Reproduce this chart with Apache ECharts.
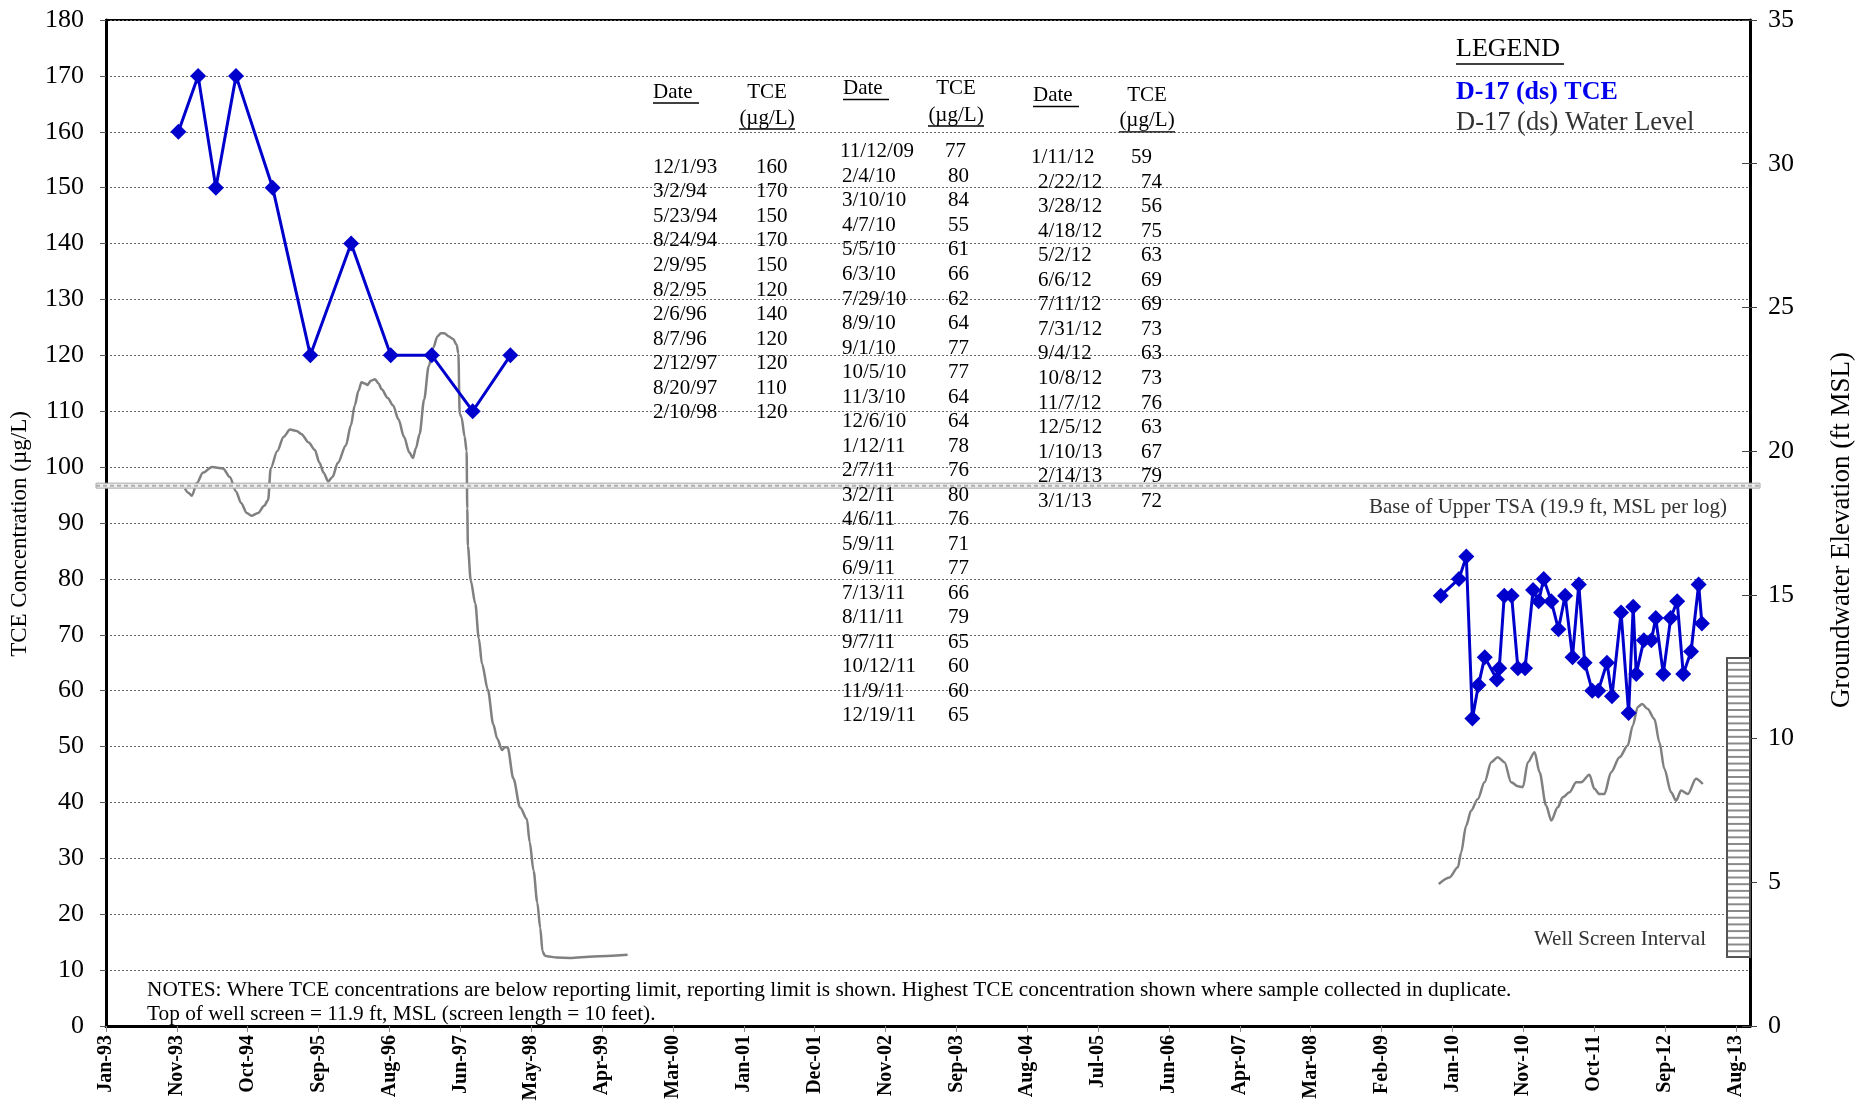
<!DOCTYPE html>
<html><head><meta charset="utf-8">
<script src="https://cdn.jsdelivr.net/npm/echarts@6/dist/echarts.min.js"></script>
<style>html,body{margin:0;padding:0;background:#fff}#c{width:1875px;height:1107px}</style>
</head><body><div id="c"></div>
<script>
// ---- DATA ----
const table1Dates = ['12/1/93','3/2/94','5/23/94','8/24/94','2/9/95','8/2/95','2/6/96','8/7/96','2/12/97','8/20/97','2/10/98'];
const table1Values = [160,170,150,170,150,120,140,120,120,110,120];
const table2Dates = ['11/12/09','2/4/10','3/10/10','4/7/10','5/5/10','6/3/10','7/29/10','8/9/10','9/1/10','10/5/10','11/3/10','12/6/10','1/12/11','2/7/11','3/2/11','4/6/11','5/9/11','6/9/11','7/13/11','8/11/11','9/7/11','10/12/11','11/9/11','12/19/11'];
const table2Values = [77,80,84,55,61,66,62,64,77,77,64,64,78,76,80,76,71,77,66,79,65,60,60,65];
const table3Dates = ['1/11/12','2/22/12','3/28/12','4/18/12','5/2/12','6/6/12','7/11/12','7/31/12','9/4/12','10/8/12','11/7/12','12/5/12','1/10/13','2/14/13','3/1/13'];
const table3Values = [59,74,56,75,63,69,69,73,63,73,76,63,67,79,72];

// Water level (days since 1 Jan 1993, ft MSL)
const wl1Days = [364,380,396,420,447,489,540,571,600,623,650,671,702,730,748,760,790,820,849,880,901,935,963,985,1004,1025,1045,1070,1107,1130,1148,1165,1179,1195,1206,1222,1241,1258,1272,1300,1324,1350,1375,1400,1416,1430,1447,1468,1489,1510,1530,1545,1561,1580,1602,1618,1626,1632,1640,1655,1664,1667,1670,1683,1704,1720,1735,1762,1787,1805,1828,1840,1853,1880,1911,1942,1955,1973,1990,2004,2014,2025,2035,2080,2139,2250,2407];
const wl1Elev = [18.7,18.55,18.45,18.9,19.25,19.45,19.4,19.1,18.6,18.2,17.85,17.75,17.85,18.1,18.3,19.4,20.0,20.5,20.75,20.7,20.6,20.3,20.05,19.6,19.25,18.95,19.1,19.6,20.2,20.9,21.6,22.1,22.4,22.35,22.3,22.45,22.5,22.35,22.15,21.85,21.6,21.1,20.5,19.95,19.76,20.1,20.6,21.8,22.95,23.6,24.0,24.1,24.1,24.0,23.9,23.7,23.4,21.3,21.2,20.5,20.0,18.0,16.7,15.5,14.7,13.5,12.6,11.7,10.5,10.0,9.6,9.7,9.7,8.6,7.6,7.2,6.4,5.4,4.3,3.4,2.6,2.45,2.43,2.38,2.37,2.42,2.48];
const wl2Days = [6150,6199,6238,6253,6276,6299,6330,6361,6392,6422,6453,6484,6515,6538,6561,6592,6615,6645,6669,6699,6722,6753,6784,6807,6845,6868,6891,6914,6945,6984,7022,7045,7068,7088,7114,7145,7168,7191,7222,7245,7268,7299,7337,7368];
const wl2Elev = [4.94,5.17,5.52,6.04,6.97,7.49,7.9,8.48,9.18,9.35,9.18,8.48,8.34,8.31,9.18,9.52,8.83,7.67,7.15,7.61,7.96,8.13,8.48,8.48,8.74,8.25,8.07,8.07,8.83,9.35,9.76,10.45,11.1,11.2,11.03,10.68,9.87,8.94,8.13,7.84,8.19,8.07,8.6,8.42];

const xTickLabels = ['Jan-93','Nov-93','Oct-94','Sep-95','Aug-96','Jun-97','May-98','Apr-99','Mar-00','Jan-01','Dec-01','Nov-02','Sep-03','Aug-04','Jul-05','Jun-06','Apr-07','Mar-08','Feb-09','Jan-10','Nov-10','Oct-11','Sep-12','Aug-13'];
const xTickStepDays = 327;
const xMaxDays = 7586;
const tsaElev = 18.8;          // drawn level of "Base of Upper TSA" line
const screenTop = 12.8, screenBottom = 2.4;  // drawn well screen interval

// ---- helpers ----
const BASE = Date.UTC(1993,0,1);
function toDays(s){const p=s.split('/').map(Number);const y=p[2]<50?2000+p[2]:1900+p[2];return Math.round((Date.UTC(y,p[0]-1,p[1])-BASE)/864e5);}
const pairs = (d,v)=>d.map((x,i)=>[toDays(x),v[i]]);
const zip = (d,v)=>d.map((x,i)=>[x,v[i]]);
const SERIF = '"Liberation Serif","Times New Roman",serif';

const chart = echarts.init(document.getElementById('c'));
const tickVals = xTickLabels.map((_,i)=>i*xTickStepDays);

chart.setOption({
  animation:false,
  backgroundColor:'#fff',
  grid:{left:106,top:20,width:1644,height:1006,show:true,borderColor:'#000',borderWidth:2},
  xAxis:{type:'value',min:0,max:xMaxDays,interval:xTickStepDays,
    axisLine:{lineStyle:{color:'#000',width:3}},
    axisTick:{customValues:tickVals,length:6,lineStyle:{color:'#888',width:1}},
    axisLabel:{customValues:tickVals,rotate:90,margin:9,fontFamily:SERIF,fontWeight:'bold',fontSize:20,color:'#000',
      formatter:v=>{const i=Math.round(v/xTickStepDays);return (Math.abs(v-i*xTickStepDays)<1e-6&&i<xTickLabels.length)?xTickLabels[i]:'';}},
    splitLine:{show:false}},
  yAxis:[
    {type:'value',position:'left',min:0,max:180,interval:10,
      axisLine:{show:true,lineStyle:{color:'#000',width:3}},
      axisTick:{show:true,length:6,lineStyle:{color:'#555'}},
      axisLabel:{fontFamily:SERIF,fontSize:26,color:'#000',margin:22},
      splitLine:{show:true,lineStyle:{color:'#666',type:[2,2],width:1}}},
    {type:'value',position:'right',min:0,max:35,interval:5,
      axisLine:{show:true,lineStyle:{color:'#000',width:3}},
      axisTick:{show:true,length:7,lineStyle:{color:'#444'}},
      axisLabel:{fontFamily:SERIF,fontSize:26,color:'#000',margin:18},
      splitLine:{show:false}},
    {type:'value',position:'right',min:0,max:35,interval:5,
      axisLine:{show:false},axisTick:{show:true,inside:true,length:8,lineStyle:{color:'#444'}},
      axisLabel:{show:false},splitLine:{show:false}}
  ],
  series:[
    {name:'WL1',type:'line',yAxisIndex:1,data:zip(wl1Days,wl1Elev),showSymbol:false,smooth:0.3,smoothMonotone:'x',
      lineStyle:{color:'#808080',width:2.5},z:2},
    {name:'WL2',type:'line',yAxisIndex:1,data:zip(wl2Days,wl2Elev),showSymbol:false,smooth:0.3,smoothMonotone:'x',
      lineStyle:{color:'#808080',width:2.5},z:2},
    {name:'TCE1',type:'line',yAxisIndex:0,data:pairs(table1Dates,table1Values),symbol:'diamond',symbolSize:16,
      lineStyle:{color:'#0000CC',width:3},itemStyle:{color:'#0000CC'},z:5},
    {name:'TCE2',type:'line',yAxisIndex:0,data:pairs(table2Dates.concat(table3Dates),table2Values.concat(table3Values)),symbol:'diamond',symbolSize:16,
      lineStyle:{color:'#0000CC',width:3},itemStyle:{color:'#0000CC'},z:5}
  ]
});

// ---- annotations (texts and tables) ----
const g = [];
const TF = '21px '+SERIF;
function txt(x,y,s,opt){g.push({type:'text',x:x,y:y,z:100,style:Object.assign({text:s,font:TF,fill:'#000',textAlign:'left',textVerticalAlign:'middle'},opt||{})});}
function uline(x1,x2,y,c){g.push({type:'line',z:100,shape:{x1:x1,y1:y,x2:x2,y2:y},style:{stroke:c||'#000',lineWidth:1.3}});}

// axis titles
g.push({type:'text',x:20,y:534,rotation:Math.PI/2,z:100,style:{text:'TCE Concentration (µg/L)',font:'23px '+SERIF,fill:'#000',textAlign:'center',textVerticalAlign:'middle'}});
g.push({type:'text',x:1842,y:530,rotation:Math.PI/2,z:100,style:{text:'Groundwater Elevation (ft MSL)',font:'27px '+SERIF,fill:'#000',textAlign:'center',textVerticalAlign:'middle'}});

function table(dates,vals,dx,vx,hy,uy,ry,headDateX,tceCx,firstShift){
  txt(headDateX,hy,'Date'); uline(headDateX,headDateX+46,hy+11);
  txt(tceCx,hy,'TCE',{textAlign:'center'});
  txt(tceCx,uy,'(µg/L)',{textAlign:'center'}); uline(tceCx-28,tceCx+28,uy+11);
  dates.forEach((d,i)=>{const s=(i===0?firstShift:[0,0]);txt(dx+s[0],ry+i*24.52,d);txt(vx+s[1],ry+i*24.52,String(vals[i]));});
}
table(table1Dates,table1Values,653,756,92,118,167.4,653,767,[0,0]);
table(table2Dates,table2Values,842,948,88.5,115,151.9,843,956,[-2,-3]);
table(table3Dates,table3Values,1038,1141,95.5,120.8,157.8,1033,1147,[-7,-10]);

// legend
txt(1456,49,'LEGEND',{font:'26px '+SERIF}); uline(1456,1564,64);
txt(1456,92,'D-17 (ds) TCE',{font:'bold 26px '+SERIF,fill:'#0000EE'});
txt(1456,123,'D-17 (ds) Water Level',{font:'26.5px '+SERIF,fill:'#333'});

// notes
txt(147,990,'NOTES: Where TCE concentrations are below reporting limit, reporting limit is shown. Highest TCE concentration shown where sample collected in duplicate.',{font:'21.3px '+SERIF});
txt(147,1014,'Top of well screen = 11.9 ft, MSL (screen length = 10 feet).',{font:'21.3px '+SERIF});

// Base of upper TSA line
const yT = chart.convertToPixel({yAxisIndex:1},tsaElev);
const gridL = 106, gridR = 1750;
g.push({type:'rect',z:90,shape:{x:gridL-10,y:yT-2.5,width:gridR-gridL+20,height:5},style:{fill:'#eeeeee',stroke:'#a8a8a8',lineWidth:1}});
g.push({type:'line',z:91,shape:{x1:gridL-10,y1:yT,x2:gridR+10,y2:yT},style:{stroke:'#b0b0b0',lineWidth:2,lineDash:[4,3]}});
txt(1727,507,'Base of Upper TSA (19.9 ft, MSL per log)',{font:'21px '+SERIF,fill:'#333',textAlign:'right'});

// Well screen interval
const ySt = chart.convertToPixel({yAxisIndex:1},screenTop);
const ySb = chart.convertToPixel({yAxisIndex:1},screenBottom);
g.push({type:'rect',z:95,shape:{x:gridR-23,y:ySt,width:23,height:ySb-ySt},style:{fill:'#fff',stroke:'#555',lineWidth:2}});
for(let y=ySt+5;y<ySb-2;y+=6.7){g.push({type:'line',z:96,shape:{x1:gridR-22,y1:y,x2:gridR-1,y2:y},style:{stroke:'#8a8a8a',lineWidth:2}});}
txt(1706,939,'Well Screen Interval',{font:'21px '+SERIF,fill:'#333',textAlign:'right'});

chart.setOption({graphic:g});
</script></body></html>
